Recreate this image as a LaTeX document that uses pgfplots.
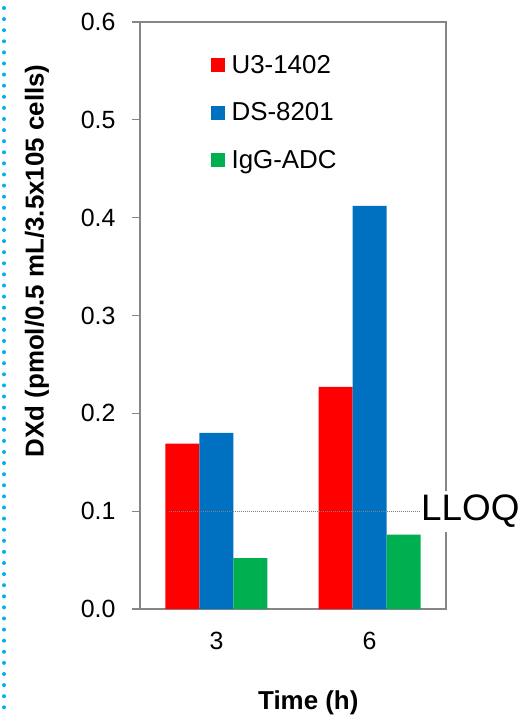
\documentclass[border=0pt]{standalone}
\usepackage{fontspec}
\setmainfont{Liberation Sans}
\usepackage{pgfplots}
\pgfplotsset{compat=1.18}
\definecolor{cred}{RGB}{255,0,0}
\definecolor{cblue}{RGB}{0,112,192}
\definecolor{cgreen}{RGB}{0,176,80}
\definecolor{ccyan}{RGB}{0,176,240}
\definecolor{axgray}{RGB}{134,134,134}
\begin{document}
\begin{tikzpicture}
\useasboundingbox (-140bp,-108bp) rectangle (383bp,609bp);
\draw[ccyan, line width=4bp, line cap=round, dash pattern=on 0bp off 11.1bp] (-136bp,601bp) -- (-136bp,-101bp);
\begin{axis}[
  at={(0,0)}, anchor=south west,
  scale only axis, width=306bp, height=587bp,
  clip=false,
  xmin=0, xmax=2, ymin=0, ymax=0.6,
  ybar=0pt, bar width=34bp,
  axis line style={axgray, line width=1.3bp},
  xtick={0.5,1.5}, xticklabels={3,6},
  ytick={0,0.1,0.2,0.3,0.4,0.5,0.6},
  yticklabel style={/pgf/number format/fixed, /pgf/number format/fixed zerofill, /pgf/number format/precision=1},
  /pgf/number format/assume math mode=true,
  tick align=outside,
  ytick pos=left, xtick pos=bottom,
  major tick length=8bp,
  tick style={axgray, line width=1.3bp},
  x tick style={draw=none},
  tick label style={font=\fontsize{25}{28}\selectfont, text=black},
  xticklabel style={yshift=-12bp},
  yticklabel style={xshift=-13bp},
  xlabel={\textbf{Time (h)}},
  ylabel={\textbf{DXd (pmol/0.5 mL/3.5x105 cells)}},
  label style={font=\fontsize{26}{30}\selectfont},
  xlabel style={at={(axis description cs:0.55,0)}, anchor=center, yshift=-94bp},
  ylabel style={at={(axis description cs:-0.3366,0.593)}, anchor=center},
  legend style={draw=none, fill=none, at={(0.23,0.947)}, anchor=north west,
    font=\fontsize{26}{30}\selectfont, row sep=24bp, inner sep=0pt,
    /tikz/every odd column/.append style={column sep=5bp}},
  legend cell align=left,
  legend image code/.code={\fill[draw=none] (0bp,-7bp) rectangle (14bp,7bp);},
]
\addplot[fill=cred, draw=none] coordinates {(0.5,0.169) (1.5,0.227)};
\addplot[fill=cblue, draw=none] coordinates {(0.5,0.180) (1.5,0.412)};
\addplot[fill=cgreen, draw=none] coordinates {(0.5,0.052) (1.5,0.076)};
\legend{U3-1402,DS-8201,IgG-ADC}
\draw[gray, densely dotted, line width=1bp] (axis cs:0.19,0.1) -- (axis cs:1.83,0.1);
\node[anchor=west, fill=white, inner xsep=1bp, inner ysep=4bp, font=\fontsize{37}{40}\selectfont] at (axis cs:1.83,0.1) {LLOQ};
\end{axis}
\end{tikzpicture}
\end{document}
